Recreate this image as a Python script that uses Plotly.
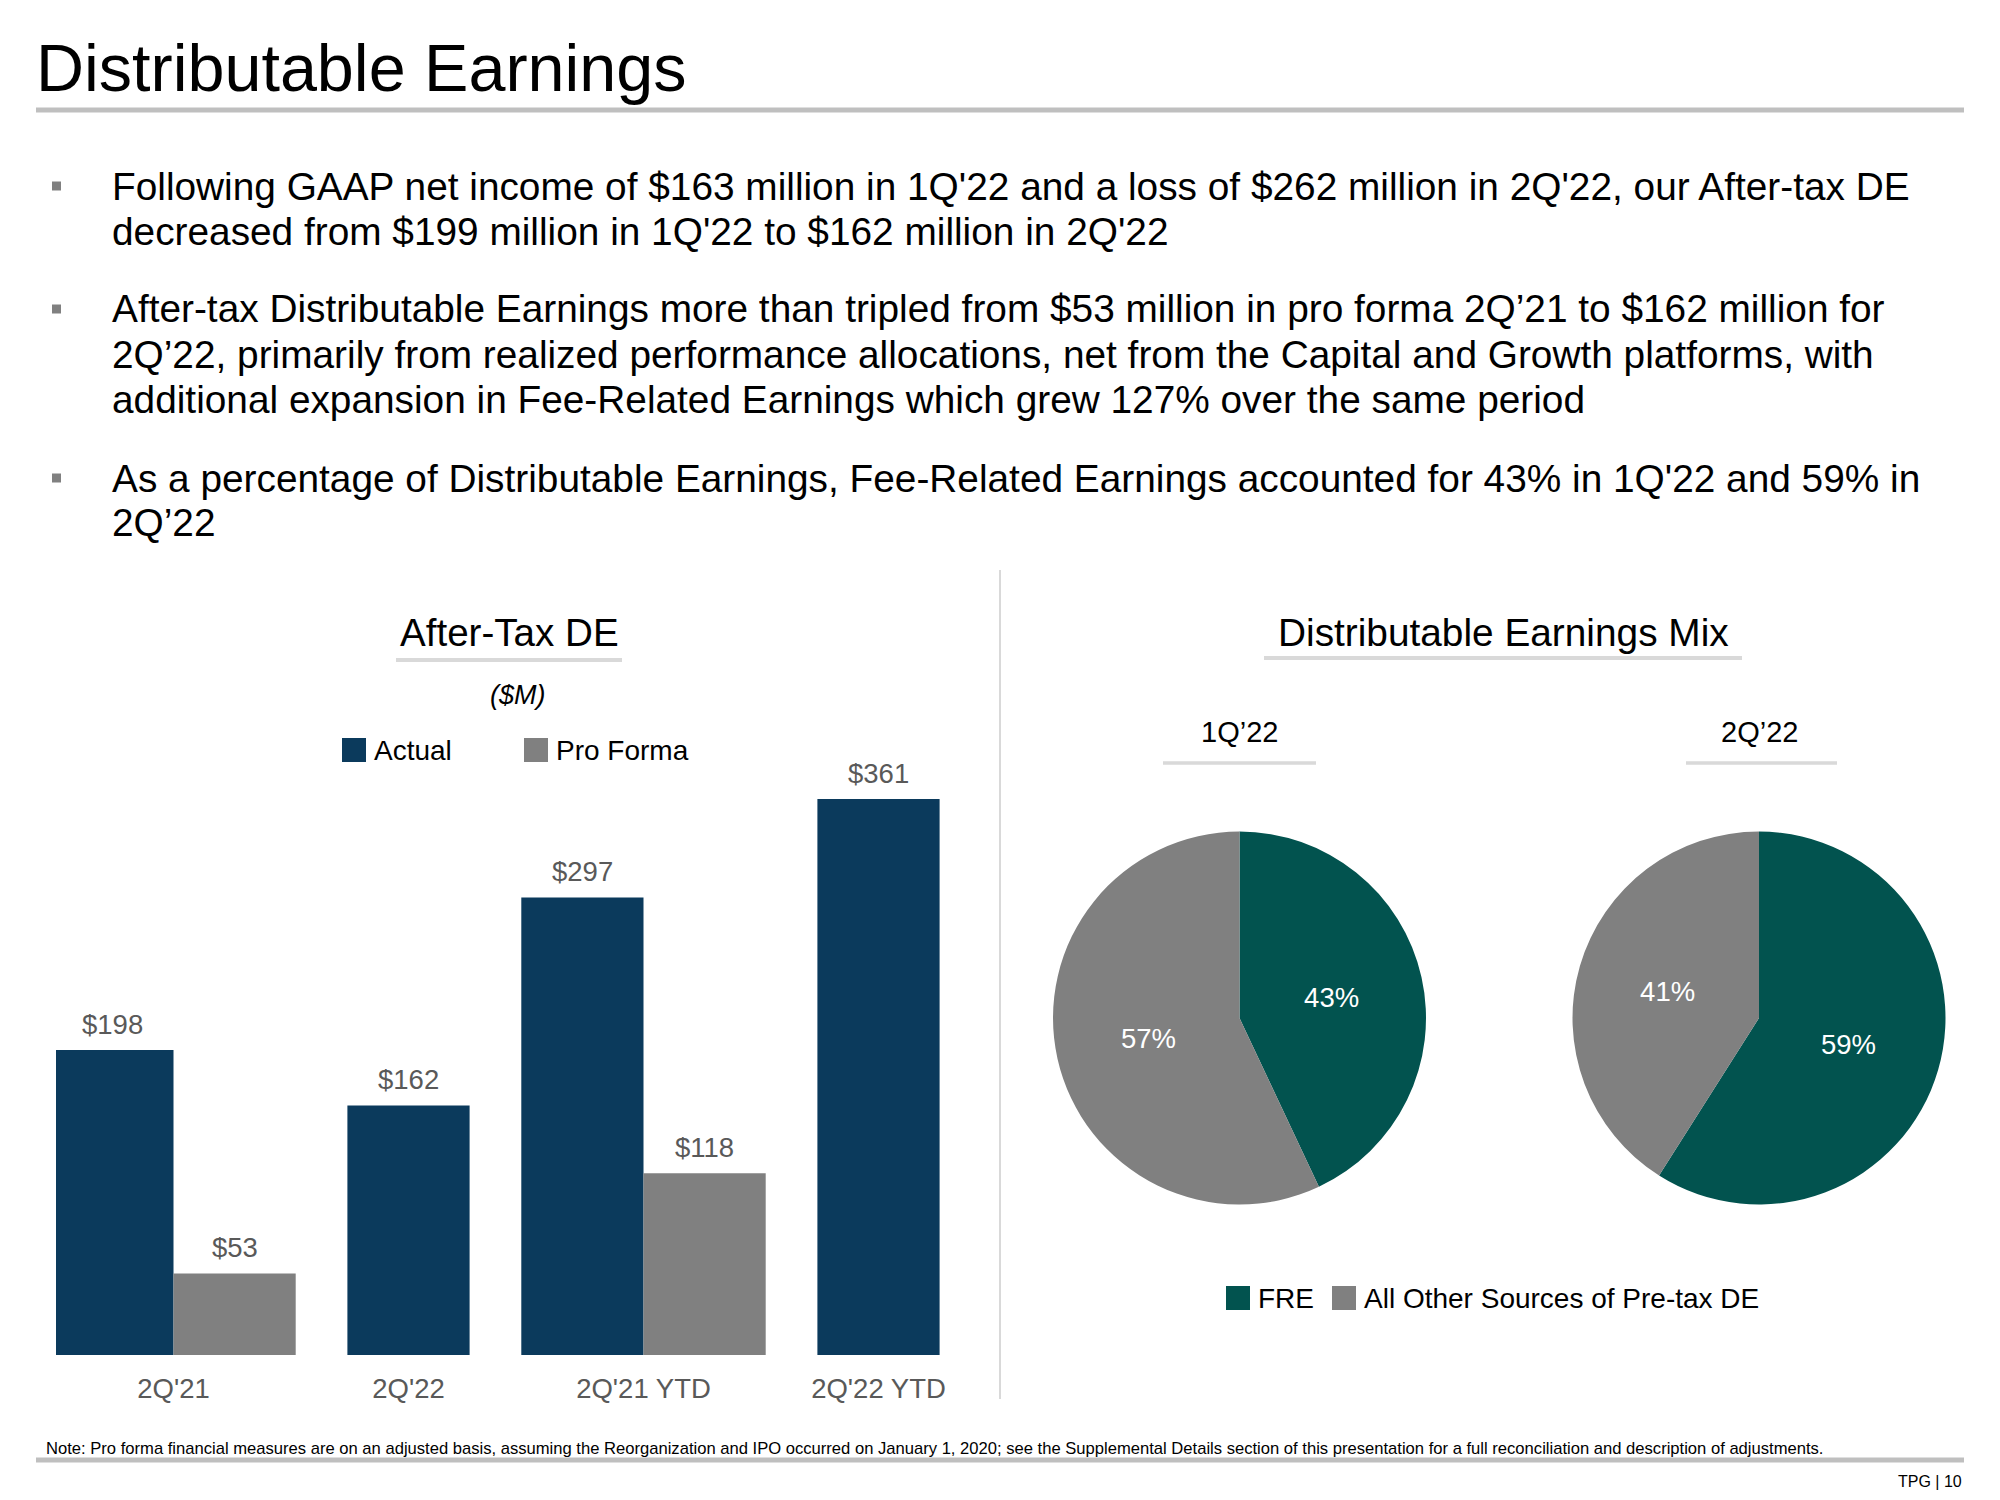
import plotly.graph_objects as go

# ---------------- data ----------------
categories = ["2Q'21", "2Q'22", "2Q'21 YTD", "2Q'22 YTD"]
actual = [198, 162, 297, 361]
pro_forma = [53, None, 118, None]

pie_periods = ["1Q’22", "2Q’22"]
pie_labels = ["FRE", "All Other Sources of Pre-tax DE"]
fre_share = [43, 59]
other_share = [57, 41]

bar_series = ["Actual", "Pro Forma"]

page_title = "Distributable Earnings"
bullets = [
    ["Following GAAP net income of $163 million in 1Q'22 and a loss of $262 million in 2Q'22, our After-tax DE",
     "decreased from $199 million in 1Q'22 to $162 million in 2Q'22"],
    ["After-tax Distributable Earnings more than tripled from $53 million in pro forma 2Q’21 to $162 million for",
     "2Q’22, primarily from realized performance allocations, net from the Capital and Growth platforms, with",
     "additional expansion in Fee-Related Earnings which grew 127% over the same period"],
    ["As a percentage of Distributable Earnings, Fee-Related Earnings accounted for 43% in 1Q'22 and 59% in",
     "2Q’22"],
]
footnote = ("Note: Pro forma financial measures are on an adjusted basis, assuming the Reorganization and IPO "
            "occurred on January 1, 2020; see the Supplemental Details section of this presentation for a full "
            "reconciliation and description of adjustments.")
page_tag = "TPG | 10"

# ---------------- style ----------------
W, H = 2000, 1500
FONT = "Arial, Liberation Sans, sans-serif"
NAVY = "#0B3A5C"
GRAY = "#808080"
TEAL = "#02534F"
LABEL = "#595959"
RULE = "#BFBFBF"
LIGHT = "#D9D9D9"
BAR_W = 0.52


def px(x):
    return x / W


def py(y):
    return 1 - y / H


fig = go.Figure()

# ---------------- bar chart ----------------
xs = list(range(len(categories)))
act_offset = [-BAR_W if pf is not None else -BAR_W / 2 for pf in pro_forma]
fig.add_bar(x=xs, y=actual, width=BAR_W, offset=act_offset, name=bar_series[0],
            marker=dict(color=NAVY, line=dict(width=0)), showlegend=False,
            xaxis="x", yaxis="y", hoverinfo="x+y")
fig.add_bar(x=xs, y=pro_forma, width=BAR_W, offset=0, name=bar_series[1],
            marker=dict(color=GRAY, line=dict(width=0)), showlegend=False,
            xaxis="x", yaxis="y", hoverinfo="x+y")

annotations = []
for i, v in enumerate(actual):
    annotations.append(dict(x=i + act_offset[i] + BAR_W / 2, y=v, xref="x", yref="y",
                            text=f"${v}", showarrow=False, yanchor="middle", yshift=26,
                            font=dict(family=FONT, size=27.5, color=LABEL)))
for i, v in enumerate(pro_forma):
    if v is None:
        continue
    annotations.append(dict(x=i + BAR_W / 2, y=v, xref="x", yref="y",
                            text=f"${v}", showarrow=False, yanchor="middle", yshift=26,
                            font=dict(family=FONT, size=27.5, color=LABEL)))

# ---------------- pies ----------------
pie_centers = [1239.5, 1759]
R = 186.5
PIE_CY = 1018
for k, period in enumerate(pie_periods):
    cx = pie_centers[k]
    fig.add_trace(go.Pie(
        values=[fre_share[k], other_share[k]], labels=pie_labels, sort=False,
        direction="clockwise", rotation=0,
        marker=dict(colors=[TEAL, GRAY], line=dict(width=0)),
        texttemplate="%{value}%", textposition="inside", insidetextorientation="horizontal",
        textfont=dict(family=FONT, size=27.5, color="white"),
        domain=dict(x=[px(cx - R), px(cx + R)], y=[py(PIE_CY + R), py(PIE_CY - R)]),
        showlegend=False, hoverinfo="label+percent", name=period,
    ))
    annotations.append(dict(x=px(cx), y=py(732), xref="paper", yref="paper", text=period,
                            showarrow=False, xanchor="center", yanchor="middle",
                            font=dict(family=FONT, size=29, color="black")))

# ---------------- text ----------------
annotations.append(dict(x=px(34), y=py(68), xref="paper", yref="paper", text=page_title,
                        showarrow=False, xanchor="left", yanchor="middle",
                        font=dict(family=FONT, size=66.5, color="black")))

shapes = []
line_y = [[186, 231], [309, 354, 399], [478, 522]]
for b, lines in enumerate(bullets):
    yb = line_y[b][0]
    shapes.append(dict(type="rect", xref="paper", yref="paper", x0=px(52), x1=px(61),
                       y0=py(yb + 4.5), y1=py(yb - 4.5), fillcolor=GRAY, line=dict(width=0)))
    for j, ln in enumerate(lines):
        annotations.append(dict(x=px(110), y=py(line_y[b][j]), xref="paper", yref="paper", text=ln,
                                showarrow=False, xanchor="left", yanchor="middle",
                                font=dict(family=FONT, size=38.8, color="black")))

annotations += [
    dict(x=px(509), y=py(633), xref="paper", yref="paper", text="After-Tax DE", showarrow=False,
         xanchor="center", yanchor="middle", font=dict(family=FONT, size=38.6, color="black")),
    dict(x=px(518), y=py(695), xref="paper", yref="paper", text="<i>($M)</i>", showarrow=False,
         xanchor="center", yanchor="middle", font=dict(family=FONT, size=27, color="black")),
    dict(x=px(1503), y=py(632), xref="paper", yref="paper", text="Distributable Earnings Mix",
         showarrow=False, xanchor="center", yanchor="middle",
         font=dict(family=FONT, size=38.8, color="black")),
    dict(x=px(44), y=py(1448), xref="paper", yref="paper", text=footnote, showarrow=False,
         xanchor="left", yanchor="middle", font=dict(family=FONT, size=16.6, color="black")),
    dict(x=px(1964), y=py(1481), xref="paper", yref="paper", text=page_tag, showarrow=False,
         xanchor="right", yanchor="middle", font=dict(family=FONT, size=16, color="black")),
]

# manual legends (square swatches)
legend_items = [
    (bar_series[0], NAVY, 342, 750),
    (bar_series[1], GRAY, 524, 750),
    (pie_labels[0], TEAL, 1226, 1298),
    (pie_labels[1], GRAY, 1332, 1298),
]
for name, col, lx, ly in legend_items:
    shapes.append(dict(type="rect", xref="paper", yref="paper", x0=px(lx), x1=px(lx + 24),
                       y0=py(ly + 12), y1=py(ly - 12), fillcolor=col, line=dict(width=0)))
    annotations.append(dict(x=px(lx + 30), y=py(ly), xref="paper", yref="paper", text=name,
                            showarrow=False, xanchor="left", yanchor="middle",
                            font=dict(family=FONT, size=28, color="black")))


# rules and dividers
def hline(x0, x1, y, width, color):
    return dict(type="line", xref="paper", yref="paper", x0=px(x0), x1=px(x1), y0=py(y), y1=py(y),
                line=dict(color=color, width=width))


shapes += [
    hline(36, 1964, 110, 5, RULE),
    hline(36, 1964, 1460, 5, RULE),
    hline(396, 622, 660, 4, LIGHT),
    hline(1264, 1742, 658, 4, LIGHT),
    hline(1163, 1316, 763, 3.5, LIGHT),
    hline(1686, 1837, 763, 3.5, LIGHT),
    dict(type="line", xref="paper", yref="paper", x0=px(1000), x1=px(1000), y0=py(570), y1=py(1399),
         line=dict(color=LIGHT, width=2)),
]

fig.update_layout(
    width=W, height=H, margin=dict(l=0, r=0, t=0, b=0),
    paper_bgcolor="white", plot_bgcolor="white",
    barmode="overlay", showlegend=False,
    font=dict(family=FONT),
    xaxis=dict(domain=[px(56), px(996)], range=[-0.5, 3.5], tickmode="array",
               tickvals=xs, ticktext=categories, showgrid=False, zeroline=False, showline=False,
               ticks="", ticklabelstandoff=14,
               tickfont=dict(family=FONT, size=27.5, color=LABEL), fixedrange=True),
    yaxis=dict(domain=[py(1355), py(739)], range=[0, 400], visible=False, fixedrange=True),
    annotations=annotations, shapes=shapes,
)

fig.write_html("out.html", config={"displayModeBar": False},
               post_script="document.body.style.margin='0';document.body.style.overflow='hidden';")
